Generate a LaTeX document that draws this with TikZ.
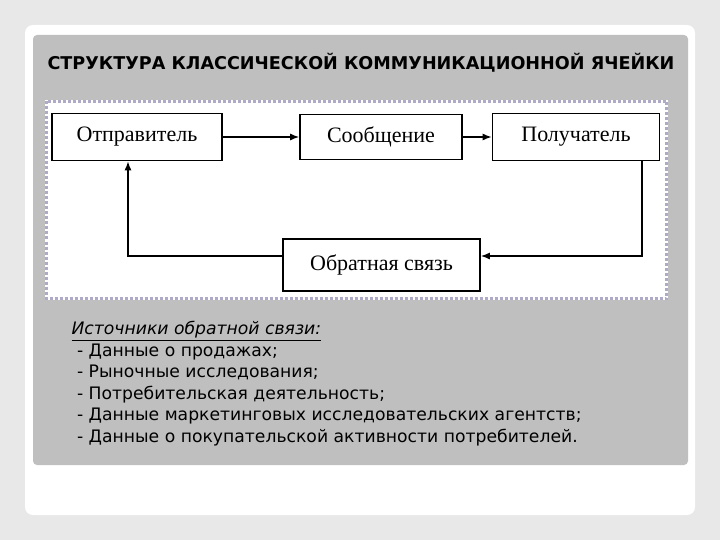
\documentclass[tikz,border=0pt]{standalone}
\usepackage{fontspec}
\usetikzlibrary{arrows.meta}
\setmainfont{DejaVu Sans}
\newfontfamily\serifb{Liberation Serif}
\begin{document}
\begin{tikzpicture}[x=1pt,y=-1pt,
  box/.style={draw=black,line width=1.6pt,fill=white,inner sep=0pt,font=\serifb\fontsize{22}{25}\selectfont},
  arr/.style={line width=1.4pt,-{Latex[length=9pt,width=7pt]}}]
\useasboundingbox (0,0) rectangle (720,540);
\fill[black!9] (0,0) rectangle (720,540);
\fill[white,rounded corners=8pt] (25,25) rectangle (695,515);
\fill[black!25,rounded corners=4pt] (33,35) rectangle (688,465);
\node[anchor=west,font=\bfseries\fontsize{17.6}{20}\selectfont] (title) at (44,63) {СТРУКТУРА КЛАССИЧЕСКОЙ КОММУНИКАЦИОННОЙ ЯЧЕЙКИ};
\fill[white] (45,100) rectangle (668,300);
\draw[line width=3pt,dash pattern=on 3pt off 2pt,color={rgb,255:red,175;green,170;blue,200}] (46.5,101.5) rectangle (666.5,298.5);
\node[box,minimum width=170pt,minimum height=47pt] (s) at (137,137) {Отправитель};
\node[box,minimum width=162pt,minimum height=45pt] (m) at (381,137) {Сообщение};
\node[box,minimum width=167pt,minimum height=47pt] (r) at (576,137) {Получатель};
\node[box,minimum width=197pt,minimum height=52pt] (f) at (381.5,265) {Обратная связь};
\coordinate (c1) at (642,256);
\coordinate (c2) at (128,256);
\draw[arr] (s.east) -- (m.west);
\draw[arr] (m.east) -- (r.west);
\draw[arr] (r.south -| c1) -- (c1) -- (f.east |- c1);
\draw[arr] (f.west |- c2) -- (c2) -- (s.south -| c2);
\node[anchor=north west,align=left,font=\fontsize{17.2}{21.5}\selectfont] (list) at (68,318)
{\underline{\itshape Источники обратной связи:}\\
\ - Данные о продажах;\\
\ - Рыночные исследования;\\
\ - Потребительская деятельность;\\
\ - Данные маркетинговых исследовательских агентств;\\
\ - Данные о покупательской активности потребителей.};
\end{tikzpicture}
\end{document}
